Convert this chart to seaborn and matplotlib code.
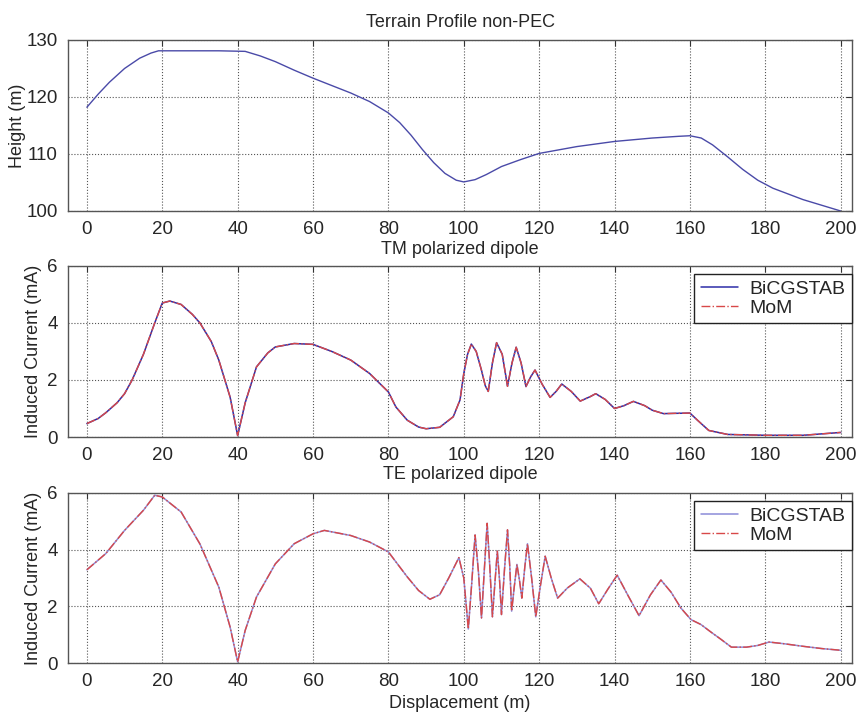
import numpy as np
import pandas as pd
import matplotlib.pyplot as plt
import seaborn as sns

# perfil do terreno
x_terreno = [0, 3, 6, 10, 14, 17, 19, 25, 30, 35,
             42, 46, 50, 55, 60, 65, 70, 75, 80, 83,
             86, 89, 92, 95, 98, 100, 103, 106, 110, 115,
             120, 125, 130, 140, 150, 157, 160, 163, 166, 170,
             174, 178, 182, 186, 190, 195, 200]
altura = [118.2, 120.5, 122.6, 125.0, 126.8, 127.7, 128.1, 128.1, 128.1, 128.1,
          128.0, 127.2, 126.2, 124.7, 123.3, 122.0, 120.7, 119.2, 117.2, 115.5,
          113.3, 110.8, 108.5, 106.6, 105.4, 105.1, 105.5, 106.4, 107.8, 109.0,
          110.1, 110.7, 111.3, 112.2, 112.8, 113.1, 113.2, 112.8, 111.6, 109.5,
          107.3, 105.4, 104.0, 103.0, 102.0, 101.0, 100.0]

# dipolo TM
x_tm = [0, 3, 5, 8, 10, 12, 15, 18, 20, 22,
        25, 28, 30, 33, 35, 38, 40, 42, 45, 48,
        50, 55, 60, 65, 70, 75, 80, 82, 85, 88,
        90, 93.6, 97.2, 99, 100, 101, 102, 103.3, 104.7, 105.7,
        106.5, 107.6, 108.7, 110.2, 111.6, 112.8, 113.9, 115.2, 116.5, 117.7,
        118.9, 120.8, 122.9, 124.5, 126.0, 128.5, 130.9, 133.6, 135, 137.5,
        140, 142.5, 145, 148, 150, 153, 156, 160, 162, 165,
        170, 180, 190, 200]
bicg_tm = [0.47, 0.65, 0.85, 1.2, 1.52, 2.0, 2.9, 4.0, 4.7, 4.77,
           4.65, 4.3, 4.0, 3.35, 2.7, 1.4, 0.05, 1.2, 2.46, 2.95,
           3.16, 3.28, 3.25, 3.0, 2.7, 2.23, 1.58, 1.05, 0.59, 0.35,
           0.29, 0.34, 0.71, 1.3, 2.23, 2.9, 3.26, 3.0, 2.34, 1.8,
           1.6, 2.6, 3.31, 2.9, 1.78, 2.6, 3.15, 2.6, 1.77, 2.1,
           2.35, 1.85, 1.39, 1.6, 1.86, 1.6, 1.26, 1.42, 1.52, 1.32,
           1.0, 1.1, 1.25, 1.1, 0.94, 0.82, 0.83, 0.84, 0.59, 0.23,
           0.09, 0.06, 0.06, 0.16]
mom_tm = list(bicg_tm)

# dipolo TE
x_te = [0, 5, 10, 15, 18, 20, 25, 30, 35, 38,
        40, 42, 45, 50, 55, 60, 63, 70, 75, 80,
        85, 88, 91, 93.6, 96, 98.7, 100, 101.2, 102.1, 103.0,
        103.9, 104.7, 105.5, 106.2, 106.9, 107.6, 108.3, 108.9, 109.5, 110.0,
        110.8, 111.6, 112.2, 112.7, 113.4, 114.1, 114.8, 115.4, 116.2, 116.9,
        118.0, 119.1, 120.3, 121.6, 123.2, 124.9, 127.5, 130.8, 133.6, 135.8,
        138.2, 140.7, 143.5, 146.5, 149.5, 152.3, 155.0, 157.6, 160.3, 162.9,
        165.5, 168.2, 171, 175, 178, 181, 185, 190, 195, 200]
bicg_te = [3.29, 3.86, 4.68, 5.39, 5.92, 5.86, 5.33, 4.2, 2.68, 1.27,
           0.04, 1.15, 2.33, 3.5, 4.21, 4.56, 4.68, 4.5, 4.27, 3.92,
           3.04, 2.56, 2.25, 2.41, 3.0, 3.72, 3.0, 1.2, 2.8, 4.52,
           3.2, 1.59, 3.4, 4.93, 3.4, 1.63, 2.9, 3.95, 2.9, 1.71,
           3.3, 4.70, 3.4, 1.83, 2.7, 3.48, 2.9, 2.29, 3.4, 4.21,
           3.0, 1.63, 2.7, 3.77, 3.0, 2.29, 2.65, 2.97, 2.64, 2.09,
           2.6, 3.10, 2.4, 1.67, 2.4, 2.93, 2.5, 1.94, 1.53, 1.36,
           1.1, 0.84, 0.56, 0.56, 0.62, 0.74, 0.68, 0.59, 0.51, 0.45]
mom_te = list(bicg_te)

xticks = [0, 20, 40, 60, 80, 100, 120, 140, 160, 180, 200]

sns.set_style("white")
plt.rcParams['font.family'] = ['Liberation Sans', 'DejaVu Sans']

fig = plt.figure(figsize=(8.58, 7.15), dpi=100)
ax1 = fig.add_axes([0.0793, 0.7049, 0.9137, 0.2392])
ax2 = fig.add_axes([0.0793, 0.3888, 0.9137, 0.2392])
ax3 = fig.add_axes([0.0793, 0.0727, 0.9137, 0.2378])

sns.lineplot(x=x_terreno, y=altura, ax=ax1, color="#4a4aa8", linewidth=1.0, sort=False)
sns.lineplot(x=x_tm, y=bicg_tm, ax=ax2, color="#2e2ea8", linewidth=1.1, sort=False, label="BiCGSTAB")
sns.lineplot(x=x_tm, y=mom_tm, ax=ax2, color="#d84848", linewidth=1.0, linestyle="-.", sort=False, label="MoM")
sns.lineplot(x=x_te, y=bicg_te, ax=ax3, color="#8c8cd8", linewidth=1.1, sort=False, label="BiCGSTAB")
sns.lineplot(x=x_te, y=mom_te, ax=ax3, color="#d84848", linewidth=1.0, linestyle="-.", sort=False, label="MoM")

ax1.set_ylim(100, 130)
ax1.set_yticks([100, 110, 120, 130])
ax2.set_ylim(0, 6)
ax2.set_yticks([0, 2, 4, 6])
ax3.set_ylim(0, 6)
ax3.set_yticks([0, 2, 4, 6])

for ax in (ax1, ax2, ax3):
    ax.set_xlim(-5, 203)
    ax.set_xticks(xticks)
    ax.grid(True, linestyle=":", color="#555555", linewidth=0.8)
    ax.tick_params(direction="in", top=True, right=True, labelsize=13.5, length=4, color="#333333", pad=7.5)
    for s in ax.spines.values():
        s.set_color("#555555")
        s.set_linewidth(1.0)

ax1.set_title("Terrain Profile non-PEC", fontsize=13, pad=9)
ax2.set_title("TM polarized dipole", fontsize=13, pad=8.5)
ax3.set_title("TE polarized dipole", fontsize=13, pad=10)
ax1.set_ylabel("Height (m)", fontsize=13, labelpad=0)
ax2.set_ylabel("Induced Current (mA)", fontsize=13, labelpad=4)
ax3.set_ylabel("Induced Current (mA)", fontsize=13, labelpad=4)
ax3.set_xlabel("Displacement (m)", fontsize=13, labelpad=3)

for ax in (ax2, ax3):
    leg = ax.legend(loc="upper right", bbox_to_anchor=(1.0, 0.955), borderaxespad=0,
                    fontsize=14, fancybox=False, framealpha=1, edgecolor="#222222",
                    handlelength=1.9, handletextpad=0.6, borderpad=0.35, labelspacing=0.05)
    leg.get_frame().set_linewidth(1.0)

plt.savefig("out.png", dpi=100)
